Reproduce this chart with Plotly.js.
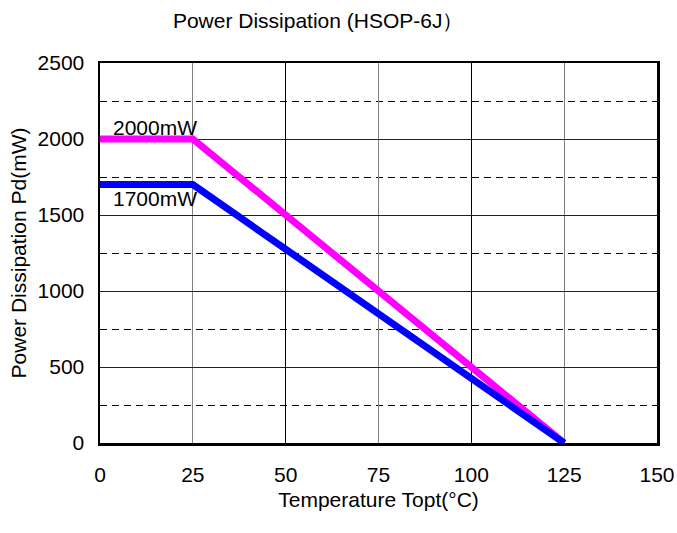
<!DOCTYPE html>
<html>
<head>
<meta charset="utf-8">
<script src="https://cdn.plot.ly/plotly-3.0.1.min.js"></script>
<style>html,body{margin:0;padding:0;background:#fff;}#chart{width:677px;height:533px;}</style>
</head>
<body>
<div id="chart"></div>
<script>
const temps = [0, 25, 125];
const pd2000 = [2000, 2000, 0];
const pd1700 = [1700, 1700, 0];
const xTicks = [0, 25, 50, 75, 100, 125, 150];
const xMajorGrid = [50, 100];
const yTicks = [0, 500, 1000, 1500, 2000, 2500];
const labelText = ['2000mW', '1700mW'];
const labelX = [3, 3];
const labelY = [2000, 1700];

const FONT = 'Liberation Sans, Arial, sans-serif';

const traces = [
  {x: temps, y: pd2000, mode: 'lines', line: {color: '#ff00ff', width: 7}, hoverinfo: 'skip'},
  {x: temps, y: pd1700, mode: 'lines', line: {color: '#0000ff', width: 7}, hoverinfo: 'skip'},
  {x: [0], y: [0], xaxis: 'x2', mode: 'markers', marker: {opacity: 0}, hoverinfo: 'skip'}
];

const layout = {
  width: 677, height: 533,
  margin: {l: 100, r: 20, t: 63, b: 90},
  paper_bgcolor: '#fff', plot_bgcolor: '#fff',
  showlegend: false,
  font: {family: FONT, color: '#000', size: 21},
  title: {text: 'Power Dissipation (HSOP-6J）', font: {family: FONT, size: 21, color: '#000'}, x: 0.47, xref: 'container', y: 0.962, yref: 'container', yanchor: 'middle'},
  xaxis: {
    range: [0, 150], tickvals: xTicks, ticktext: xTicks.map(String),
    showgrid: true, gridcolor: '#808080', gridwidth: 1,
    zeroline: false, showline: true, linecolor: '#000', linewidth: 2.5, mirror: true,
    ticks: '', ticklabelstandoff: 11,
    tickfont: {family: FONT, size: 21, color: '#000'},
    title: {text: 'Temperature Topt(°C)', font: {family: FONT, size: 21, color: '#000'}, standoff: 8}
  },
  xaxis2: {
    range: [0, 150], overlaying: 'x', tickvals: xMajorGrid,
    showgrid: true, gridcolor: '#000', gridwidth: 1,
    showticklabels: false, ticks: '', zeroline: false, showline: false
  },
  yaxis: {
    range: [0, 2500], tickvals: yTicks, ticktext: yTicks.map(String),
    showgrid: true, gridcolor: '#222', gridwidth: 1,
    minor: {dtick: 250, tick0: 0, showgrid: true, gridcolor: '#000', gridwidth: 1, griddash: '7px,5px'},
    zeroline: false, showline: true, linecolor: '#000', linewidth: 2.5, mirror: true,
    ticks: '', ticklabelstandoff: 9,
    tickfont: {family: FONT, size: 21, color: '#000'},
    title: {text: 'Power Dissipation Pd(mW)', font: {family: FONT, size: 21, color: '#000'}, standoff: 5}
  },
  annotations: labelText.map((t, i) => ({
    x: labelX[i], y: labelY[i], xref: 'x', yref: 'y', text: t, showarrow: false,
    xanchor: 'left', yanchor: i === 0 ? 'bottom' : 'top', yshift: i === 0 ? -2 : 0,
    font: {family: FONT, size: 21, color: '#000'}
  }))
};

Plotly.newPlot('chart', traces, layout, {displayModeBar: false, staticPlot: true});
</script>
</body>
</html>
